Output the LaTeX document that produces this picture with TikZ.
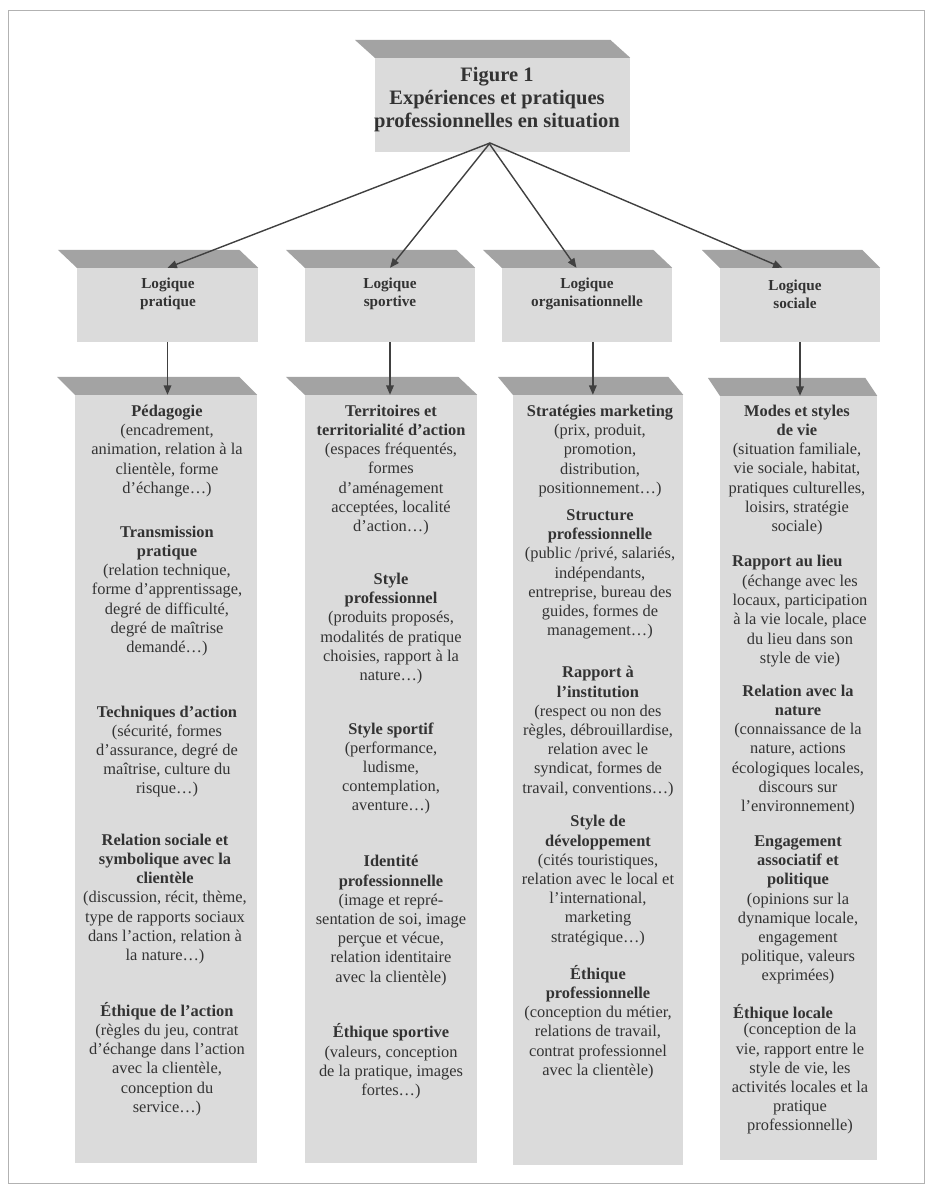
\documentclass[tikz,border=0pt]{standalone}
\usepackage{fontspec}
\setmainfont{Liberation Serif}
\usetikzlibrary{arrows.meta}

\tikzset{
	face/.style={fill=black!14, inner sep=0pt},
	dessus/.style={fill=black!36},
	txt/.style={align=center, text=black!80, inner sep=0pt, font=\fontsize{14}{16.4}\selectfont},
	logtxt/.style={align=center, text=black!80, inner sep=0pt, font=\bfseries\fontsize{13}{15.5}\selectfont},
	fleche/.style={draw=black!75, line width=1.2pt, -{Triangle[length=8pt,width=6.5pt]}}
}

\begin{document}
\begin{tikzpicture}[x=0.03cm, y=-0.03cm]
		\useasboundingbox (0,0) rectangle (926,1191);
		\draw[black!30, line width=0.8pt] (8,10) rectangle (924,1183);

		% Boîtes
		\node (fbox) at (502.5,105) [face, minimum width=7.65cm, minimum height=2.82cm] {};
		\node (pbox) at (167.5,305) [face, minimum width=5.43cm, minimum height=2.22cm] {};
		\node (sbox) at (390,305) [face, minimum width=5.10cm, minimum height=2.22cm] {};
		\node (obox) at (587,305) [face, minimum width=5.10cm, minimum height=2.22cm] {};
		\node (socbox) at (800,305) [face, minimum width=4.80cm, minimum height=2.22cm] {};
		\node (pcol) at (166,779) [face, minimum width=5.46cm, minimum height=23.04cm] {};
		\node (scol) at (391,779) [face, minimum width=5.16cm, minimum height=23.04cm] {};
		\node (ocol) at (598,780) [face, minimum width=5.10cm, minimum height=23.1cm] {};
		\node (soccol) at (798.5,778) [face, minimum width=4.71cm, minimum height=22.92cm] {};

		% Dessus des boîtes
		\fill[dessus] (fbox.north west) -- ++(-20,-18) -- ([shift={(-20,-18)}]fbox.north east) -- (fbox.north east) -- cycle;
		\fill[dessus] (pbox.north west) -- ++(-19,-18) -- ([shift={(-19,-18)}]pbox.north east) -- (pbox.north east) -- cycle;
		\fill[dessus] (sbox.north west) -- ++(-19,-18) -- ([shift={(-19,-18)}]sbox.north east) -- (sbox.north east) -- cycle;
		\fill[dessus] (obox.north west) -- ++(-19,-18) -- ([shift={(-19,-18)}]obox.north east) -- (obox.north east) -- cycle;
		\fill[dessus] (socbox.north west) -- ++(-18,-18) -- ([shift={(-18,-18)}]socbox.north east) -- (socbox.north east) -- cycle;
		\fill[dessus] (pcol.north west) -- ++(-18,-18) -- ([shift={(-18,-18)}]pcol.north east) -- (pcol.north east) -- cycle;
		\fill[dessus] (scol.north west) -- ++(-19,-18) -- ([shift={(-19,-18)}]scol.north east) -- (scol.north east) -- cycle;
		\fill[dessus] (ocol.north west) -- ++(-15,-18) -- ([shift={(-15,-18)}]ocol.north east) -- (ocol.north east) -- cycle;
		\fill[dessus] (soccol.north west) -- ++(-12,-18) -- ([shift={(-12,-18)}]soccol.north east) -- (soccol.north east) -- cycle;

		% Titres
		\node (fig) at (497,99.5) [align=center, text=black!80, inner sep=0pt, font=\bfseries\fontsize{17.5}{20}\selectfont] {Figure 1\\Expériences et pratiques\\professionnelles en situation};
		\node (lp) at (168,294) [logtxt] {Logique\\pratique};
		\node (ls) at (390,294) [logtxt] {Logique\\sportive};
		\node (lo) at (587,294) [logtxt] {Logique\\organisationnelle};
		\node (lsoc) at (795,294) [logtxt] {Logique\\sociale};

		% Logique pratique
		\node (peda) at (167,451) [txt] {\textbf{Pédagogie}\\(encadrement,\\animation, relation à la\\clientèle, forme\\d'échange…)};
		\node (trans) at (167,591) [txt] {\textbf{Transmission}\\\textbf{pratique}\\(relation technique,\\forme d'apprentissage,\\degré de difficulté,\\degré de maîtrise\\demandé…)};
		\node (techn) at (167,751.5) [txt] {\textbf{Techniques d'action}\\(sécurité, formes\\d'assurance, degré de\\maîtrise, culture du\\risque…)};
		\node (relsoc) at (165,899) [txt] {\textbf{Relation sociale et}\\\textbf{symbolique avec la}\\\textbf{clientèle}\\(discussion, récit, thème,\\type de rapports sociaux\\dans l'action, relation à\\la nature…)};
		\node (ethact) at (167,1059) [txt] {\textbf{Éthique de l'action}\\(règles du jeu, contrat\\d'échange dans l'action\\avec la clientèle,\\conception du\\service…)};

		% Logique sportive
		\node (terr) at (391,470) [txt] {\textbf{Territoires et}\\\textbf{territorialité d'action}\\(espaces fréquentés,\\formes\\d'aménagement\\acceptées, localité\\d'action…)};
		\node (stpro) at (391,628.5) [txt] {\textbf{Style}\\\textbf{professionnel}\\(produits proposés,\\modalités de pratique\\choisies, rapport à la\\nature…)};
		\node (stsport) at (391,768.5) [txt] {\textbf{Style sportif}\\(performance,\\ludisme,\\contemplation,\\aventure…)};
		\node (ident) at (391,920.5) [txt] {\textbf{Identité}\\\textbf{professionnelle}\\(image et repré-\\sentation de soi, image\\perçue et vécue,\\relation identitaire\\avec la clientèle)};
		\node (ethsport) at (391,1061.5) [txt] {\textbf{Éthique sportive}\\(valeurs, conception\\de la pratique, images\\fortes…)};

		% Logique organisationnelle
		\node (strat) at (600,451) [txt] {\textbf{Stratégies marketing}\\(prix, produit,\\promotion,\\distribution,\\positionnement…)};
		\node (struct) at (600,574.5) [txt] {\textbf{Structure}\\\textbf{professionnelle}\\(public /privé, salariés,\\indépendants,\\entreprise, bureau des\\guides, formes de\\management…)};
		\node (rinst) at (598,731.5) [txt] {\textbf{Rapport à}\\\textbf{l'institution}\\(respect ou non des\\règles, débrouillardise,\\relation avec le\\syndicat, formes de\\travail, conventions…)};
		\node (dev) at (598,880.5) [txt] {\textbf{Style de}\\\textbf{développement}\\(cités touristiques,\\relation avec le local et\\l'international,\\marketing\\stratégique…)};
		\node (ethpro) at (598,1022) [txt] {\textbf{Éthique}\\\textbf{professionnelle}\\(conception du métier,\\relations de travail,\\contrat professionnel\\avec la clientèle)};

		% Logique sociale
		\node (modes) at (797,470) [txt] {\textbf{Modes et styles}\\\textbf{de vie}\\(situation familiale,\\vie sociale, habitat,\\pratiques culturelles,\\loisirs, stratégie\\sociale)};
		\node (rlieut) at (732,563) [txt, anchor=west] {\textbf{Rapport au lieu}};
		\node (rlieu) at (800,621) [txt] {(échange avec les\\locaux, participation\\à la vie locale, place\\du lieu dans son\\style de vie)};
		\node (nature) at (798,750) [txt] {\textbf{Relation avec la}\\\textbf{nature}\\(connaissance de la\\nature, actions\\écologiques locales,\\discours sur\\l'environnement)};
		\node (engag) at (798,910) [txt] {\textbf{Engagement}\\\textbf{associatif et}\\\textbf{politique}\\(opinions sur la\\dynamique locale,\\engagement\\politique, valeurs\\exprimées)};
		\node (ethloct) at (733,1013) [txt, anchor=west] {\textbf{Éthique locale}};
		\node (ethloc) at (800,1079) [txt] {(conception de la\\vie, rapport entre le\\style de vie, les\\activités locales et la\\pratique\\professionnelle)};

		% Flèches
		\coordinate (hub) at (490,143);
		\draw[fleche] (hub) to (pbox.north);
		\draw[fleche] (hub) to (sbox.north);
		\draw[fleche] ([xshift=-1pt]hub) to ([xshift=-9]obox.north);
		\draw[fleche] (hub) to ([xshift=-15]socbox.north);
		\draw[fleche] (pbox.south) to (pbox.south |- pcol.north);
		\draw[fleche] (sbox.south) to (sbox.south |- scol.north);
		\draw[fleche] ([xshift=5]obox.south) to ([xshift=5]obox.south |- ocol.north);
		\draw[fleche] (socbox.south) to (socbox.south |- soccol.north);
	\end{tikzpicture}
\end{document}
